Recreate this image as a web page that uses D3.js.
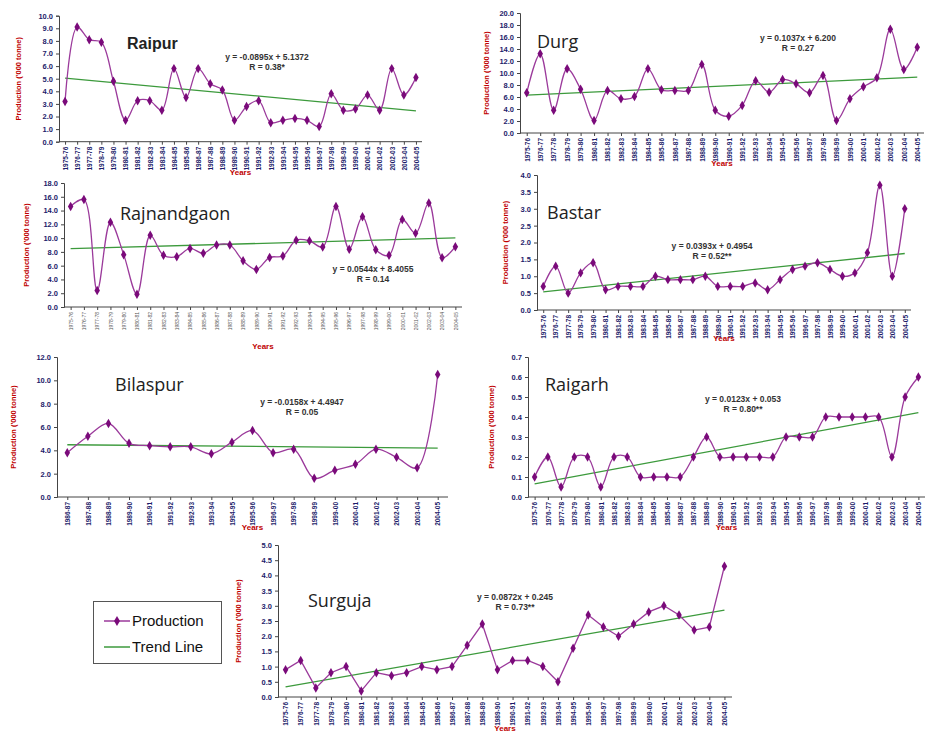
<!DOCTYPE html>
<html>
<head>
<meta charset="utf-8">
<script src="https://cdnjs.cloudflare.com/ajax/libs/d3/7.8.5/d3.min.js"></script>
<style>
body { margin: 0; background: #fff; }
svg { display: block; font-family: "Liberation Sans", Arial, sans-serif; }
</style>
</head>
<body>
<svg id="chart"></svg>
<script>
// year labels
const years30 = ["1975-76","1976-77","1977-78","1978-79","1979-80","1980-81","1981-82","1982-83","1983-84","1984-85",
	"1985-86","1986-87","1987-88","1988-89","1989-90","1990-91","1991-92","1992-93","1993-94","1994-95",
	"1995-96","1996-97","1997-98","1998-99","1999-00","2000-01","2001-02","2002-03","2003-04","2004-05"];
const years19 = ["1986-87","1987-88","1988-89","1989-90","1990-91","1991-92","1992-93","1993-94","1994-95","1995-96",
	"1996-97","1997-98","1998-99","1999-00","2000-01","2001-02","2002-03","2003-04","2004-05"];

// production ('000 tonne)
const raipur = [3.2,9.1,8.1,7.9,4.8,1.7,3.25,3.25,2.5,5.8,3.5,5.8,4.6,4.1,1.7,2.8,3.25,1.5,1.7,1.85,1.7,1.2,3.8,2.5,2.6,3.7,2.5,5.8,3.7,5.1];
const durg = [6.7,13.2,3.8,10.7,7.3,2.1,7.1,5.7,6.1,10.7,7.2,7.1,7.1,11.4,3.8,2.8,4.6,8.7,6.8,8.9,8.2,6.7,9.6,2.1,5.7,7.7,9.2,17.3,10.6,14.3];
const rajnandgaon = [14.6,15.6,2.4,12.3,7.6,1.85,10.4,7.5,7.3,8.5,7.8,9.0,9.0,6.7,5.45,7.2,7.4,9.7,9.6,8.7,14.6,8.4,13.1,8.3,7.5,12.7,10.7,15.1,7.15,8.75];
const bastar = [0.7,1.3,0.5,1.1,1.4,0.6,0.7,0.7,0.7,1.0,0.9,0.9,0.9,1.0,0.7,0.7,0.7,0.8,0.6,0.9,1.2,1.3,1.4,1.2,1.0,1.1,1.7,3.7,1.0,3.0];
const bilaspur = [3.8,5.2,6.3,4.6,4.4,4.3,4.3,3.7,4.7,5.7,3.8,4.1,1.6,2.3,2.8,4.1,3.4,2.5,10.5];
const raigarh = [0.1,0.2,0.05,0.2,0.2,0.05,0.2,0.2,0.1,0.1,0.1,0.1,0.2,0.3,0.2,0.2,0.2,0.2,0.2,0.3,0.3,0.3,0.4,0.4,0.4,0.4,0.4,0.2,0.5,0.6];
const surguja = [0.9,1.2,0.3,0.8,1.0,0.2,0.8,0.7,0.8,1.0,0.9,1.0,1.7,2.4,0.9,1.2,1.2,1.0,0.5,1.6,2.7,2.3,2.0,2.4,2.8,3.0,2.7,2.2,2.3,4.3];

// trend line coefficients [slope, intercept] and printed texts
const trendRaipur = [-0.0895, 5.1372];
const trendDurg = [0.1037, 6.2];
const trendRajnandgaon = [0.0544, 8.4055];
const trendBastar = [0.0393, 0.4954];
const trendBilaspur = [-0.0158, 4.4947];
const trendRaigarh = [0.0123, 0.053];
const trendSurguja = [0.0872, 0.245];

const eqTexts = ["y = -0.0895x + 5.1372", "y = 0.1037x + 6.200", "y = 0.0544x + 8.4055", "y = 0.0393x + 0.4954",
	"y = -0.0158x + 4.4947", "y = 0.0123x + 0.053", "y = 0.0872x + 0.245"];
const rTexts = ["R = 0.38*", "R = 0.27", "R = 0.14", "R = 0.52**", "R = 0.05", "R = 0.80**", "R = 0.73**"];

const legendItems = ["Production", "Trend Line"];

let w = 925;
let h = 733;
let lineColor = "#9b3a9b";
let markColor = "#7a0a7a";
let trendColor = "#3c9a3c";
let tickColor = "#1c1c6a";
let axisTitleColor = "#c00000";

let svg = d3.select("#chart").attr("width", w).attr("height", h);

// layout of each panel
let panels = [
	{name: "Raipur", labels: years30, values: raipur, trend: trendRaipur, i: 0, yMax: 10, yStep: 1,
		x0: 59, x1: 422, yTop: 15.7, yBot: 141.7, smooth: true, titleFont: "bold 16px 'Liberation Sans', Arial", titleX: 127, titleY: 49,
		eqX: 267, eqY: 60, yTitleX: 21, yearsY: 175},
	{name: "Durg", labels: years30, values: durg, trend: trendDurg, i: 1, yMax: 20, yStep: 2,
		x0: 520, x1: 924, yTop: 13, yBot: 133, smooth: true, titleX: 537, titleY: 48,
		eqX: 798, eqY: 41, yTitleX: 489, yearsY: 166},
	{name: "Rajnandgaon", labels: years30, values: rajnandgaon, trend: trendRajnandgaon, i: 2, yMax: 18, yStep: 2,
		x0: 64, x1: 462, yTop: 183, yBot: 307, smooth: true, titleX: 120, titleY: 220, small: true,
		eqX: 373, eqY: 272, yTitleX: 29, yearsY: 349},
	{name: "Bastar", labels: years30, values: bastar, trend: trendBastar, i: 3, yMax: 4, yStep: 0.5,
		x0: 537, x1: 911, yTop: 175, yBot: 310, smooth: true, titleX: 547, titleY: 219,
		eqX: 712, eqY: 249, yTitleX: 508, yearsY: 341},
	{name: "Bilaspur", labels: years19, values: bilaspur, trend: trendBilaspur, i: 4, yMax: 12, yStep: 2,
		x0: 57, x1: 448, yTop: 357, yBot: 497, smooth: true, titleX: 115, titleY: 391,
		eqX: 302, eqY: 405, yTitleX: 16, yearsY: 530},
	{name: "Raigarh", labels: years30, values: raigarh, trend: trendRaigarh, i: 5, yMax: 0.7, yStep: 0.1,
		x0: 528, x1: 925, yTop: 357, yBot: 497, smooth: true, titleX: 545, titleY: 391,
		eqX: 743, eqY: 402, yTitleX: 494, yearsY: 530},
	{name: "Surguja", labels: years30, values: surguja, trend: trendSurguja, i: 6, yMax: 5, yStep: 0.5,
		x0: 278, x1: 732, yTop: 545, yBot: 697, smooth: false, titleX: 308, titleY: 607,
		eqX: 515, eqY: 600, yTitleX: 241, yearsY: 731}
];

function drawPanel(p) {
	let g = svg.append("g");
	let x = d3.scalePoint().domain(p.labels).range([p.x0, p.x1]).padding(0.5);
	let y = d3.scaleLinear().domain([0, p.yMax]).range([p.yBot, p.yTop]);

	let ticks = d3.range(0, p.yMax + p.yStep / 2, p.yStep);
	let yAxis = g.append("g")
		.attr("transform", `translate(${p.x0},0)`)
		.call(d3.axisLeft(y).tickValues(ticks).tickFormat(d3.format(".1f")).tickSize(3).tickPadding(3));
	yAxis.selectAll("text")
		.attr("fill", tickColor)
		.style("font", "bold 7.5px 'Liberation Sans', Arial");

	let xAxis = g.append("g")
		.attr("transform", `translate(0,${p.yBot})`)
		.call(d3.axisBottom(x).tickSize(3).tickSizeOuter(0));
	xAxis.select(".domain").attr("d", `M${p.x0},0H${p.x1}`);
	xAxis.selectAll("text")
		.attr("fill", p.small ? "#555" : tickColor)
		.style("font", p.small ? "5px 'Liberation Sans', Arial" : "bold 6.5px 'Liberation Sans', Arial")
		.attr("text-anchor", "end")
		.attr("transform", "rotate(-90)")
		.attr("x", -5)
		.attr("y", 0)
		.attr("dy", "0.35em");
	g.selectAll(".domain, .tick line").attr("stroke", "#444");

	// axis titles
	g.append("text")
		.attr("transform", `translate(${p.yTitleX},${(p.yTop + p.yBot) / 2}) rotate(-90)`)
		.attr("text-anchor", "middle")
		.attr("fill", axisTitleColor)
		.style("font", "bold 7.5px 'Liberation Sans', Arial")
		.text("Production ('000 tonne)");
	g.append("text")
		.attr("x", (p.x0 + Math.min(p.x1, w)) / 2)
		.attr("y", p.yearsY)
		.attr("text-anchor", "middle")
		.attr("fill", axisTitleColor)
		.style("font", "bold 8px 'Liberation Sans', Arial")
		.text("Years");

	// trend line
	let n = p.values.length;
	g.append("line")
		.attr("x1", x(p.labels[0])).attr("y1", y(p.trend[0] * 1 + p.trend[1]))
		.attr("x2", x(p.labels[n - 1])).attr("y2", y(p.trend[0] * n + p.trend[1]))
		.attr("stroke", trendColor)
		.attr("stroke-width", 1.3);

	// production line
	let line = d3.line()
		.x((d, i) => x(p.labels[i]))
		.y(d => y(d))
		.curve(p.smooth ? d3.curveCatmullRom.alpha(0.5) : d3.curveLinear);
	g.append("path")
		.datum(p.values)
		.attr("d", line)
		.attr("fill", "none")
		.attr("stroke", lineColor)
		.attr("stroke-width", 1.3);
	g.selectAll(".pt")
		.data(p.values)
		.enter()
		.append("path")
		.attr("d", d3.symbol(d3.symbolDiamond).size(26))
		.attr("transform", (d, i) => `translate(${x(p.labels[i])},${y(d)})`)
		.attr("fill", markColor);

	// title and equation
	g.append("text")
		.attr("x", p.titleX)
		.attr("y", p.titleY)
		.attr("fill", "#222")
		.style("font", p.titleFont || "18px 'Open Sans', sans-serif")
		.text(p.name);
	g.append("text")
		.attr("x", p.eqX).attr("y", p.eqY)
		.attr("text-anchor", "middle")
		.attr("fill", "#333")
		.style("font", "bold 8.5px 'Liberation Sans', Arial")
		.text(eqTexts[p.i]);
	g.append("text")
		.attr("x", p.eqX).attr("y", p.eqY + 10)
		.attr("text-anchor", "middle")
		.attr("fill", "#333")
		.style("font", "bold 8.5px 'Liberation Sans', Arial")
		.text(rTexts[p.i]);
}

panels.forEach(drawPanel);

// legend
let lg = svg.append("g");
lg.append("rect")
	.attr("x", 93.5).attr("y", 601.5).attr("width", 128).attr("height", 62)
	.attr("fill", "#fff").attr("stroke", "#555");
legendItems.forEach(function (t, i) {
	let ly = 621 + i * 26;
	lg.append("line")
		.attr("x1", 104).attr("x2", 130).attr("y1", ly).attr("y2", ly)
		.attr("stroke", i == 0 ? lineColor : trendColor)
		.attr("stroke-width", 1.5);
	if (i == 0) {
		lg.append("path")
			.attr("d", d3.symbol(d3.symbolDiamond).size(30))
			.attr("transform", `translate(117,${ly})`)
			.attr("fill", markColor);
	}
	lg.append("text")
		.attr("x", 132).attr("y", ly + 5)
		.attr("fill", "#111")
		.style("font", "15px 'Liberation Sans', Arial")
		.text(t);
});
</script>
</body>
</html>
